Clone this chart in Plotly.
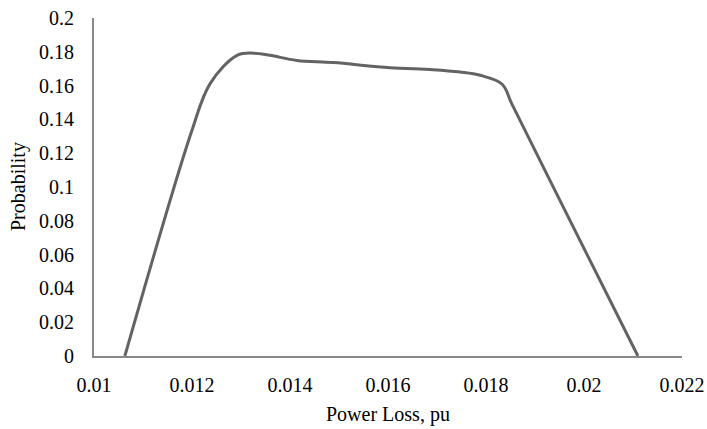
import plotly.graph_objects as go

power_loss = [0.01063, 0.0120, 0.01237, 0.01292, 0.01326, 0.01359, 0.01414, 0.01488,
              0.01604, 0.01692, 0.01747, 0.01788, 0.01833, 0.01853, 0.01969, 0.0211]
probability = [0.0, 0.1336, 0.1612, 0.1779, 0.1792, 0.1779, 0.1749, 0.1736,
               0.1706, 0.1694, 0.1680, 0.1661, 0.1608, 0.1490, 0.0816, 0.0]

x_ticks = [0.01, 0.012, 0.014, 0.016, 0.018, 0.02, 0.022]
x_tick_text = ["0.01", "0.012", "0.014", "0.016", "0.018", "0.02", "0.022"]
y_ticks = [0, 0.02, 0.04, 0.06, 0.08, 0.1, 0.12, 0.14, 0.16, 0.18, 0.2]
y_tick_text = ["0", "0.02", "0.04", "0.06", "0.08", "0.1", "0.12", "0.14", "0.16", "0.18", "0.2"]
x_title = "Power Loss, pu"
y_title = "Probability"

font = dict(family="Liberation Serif, Times New Roman, serif", size=20, color="#000000")

fig = go.Figure()
fig.add_trace(go.Scatter(
    x=power_loss, y=probability, mode="lines",
    line=dict(color="#636363", width=3, shape="spline", smoothing=1),
    showlegend=False, cliponaxis=False, hoverinfo="skip",
))

fig.add_annotation(x=0.5, y=0, xref="paper", yref="paper", text=x_title,
                   showarrow=False, font=font, xanchor="center", yanchor="middle",
                   yshift=-58)
fig.add_annotation(x=0, y=0.5, xref="paper", yref="paper", text=y_title,
                   showarrow=False, font=font, xanchor="center", yanchor="middle",
                   textangle=-90, xshift=-76)

fig.update_layout(
    width=707, height=429,
    margin=dict(l=94, r=25, t=17.5, b=72.5),
    paper_bgcolor="white", plot_bgcolor="white",
    font=font,
    xaxis=dict(
        range=[0.01, 0.022], tickvals=x_ticks, ticktext=x_tick_text, automargin=False,
        showgrid=False, zeroline=False, showline=True, linecolor="#888888", linewidth=2,
        ticks="", ticklabelstandoff=10, ticklabeloverflow="allow",
    ),
    yaxis=dict(
        range=[0, 0.2], tickvals=y_ticks, ticktext=y_tick_text, automargin=False,
        showgrid=False, zeroline=False, showline=True, linecolor="#888888", linewidth=2,
        ticks="", ticklabelstandoff=14, ticklabeloverflow="allow",
    ),
)

fig.write_html(
    "out.html",
    config={"displayModeBar": False},
    post_script="document.body.style.margin='0';document.body.style.overflow='hidden';",
)
